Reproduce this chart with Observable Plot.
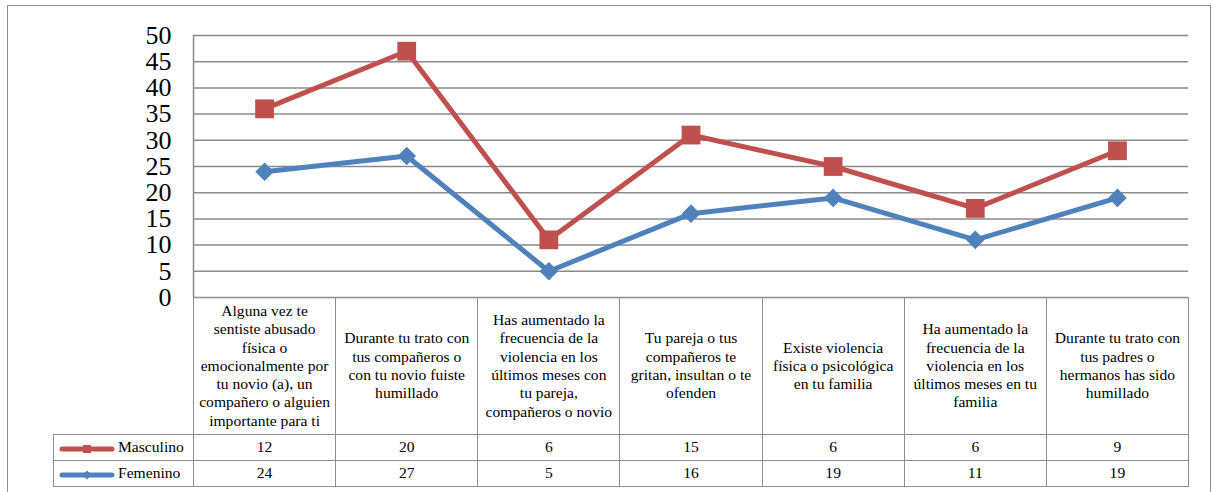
<!DOCTYPE html>
<html>
<head>
<meta charset="utf-8">
<script src="https://cdn.jsdelivr.net/npm/d3@7"></script>
<script src="https://cdn.jsdelivr.net/npm/@observablehq/plot@0.6"></script>
<style>
html,body{margin:0;padding:0;background:#fff;}
#wrap{position:relative;width:1217px;height:492px;overflow:hidden;color:#000;}
#frame{position:absolute;left:7px;top:5px;width:1204px;height:600px;border:1.5px solid #8c8c8c;box-sizing:border-box;}
#chart{position:absolute;left:0;top:0;}
#tabla{position:absolute;top:297px;border-collapse:collapse;table-layout:fixed;}
#tabla td{border:1.5px solid #8e8e8e;text-align:center;vertical-align:middle;padding:0;line-height:18.3px;white-space:pre;color:#000;}
#tabla td.vacio{border-top:none;border-left:none;}
#tabla td.leyenda{text-align:left;padding-left:5px;}
#tabla td.leyenda svg{vertical-align:middle;margin-right:3px;}
</style>
</head>
<body>
<div id="wrap" style="font-family:'Liberation Serif','Times New Roman',serif">
  <div id="frame"></div>
  <div id="chart"></div>
  <table id="tabla" style="font-family:'Liberation Serif','Times New Roman',serif;font-size:15.6px"></table>
</div>
<script>
const categorias = [
  "Alguna vez te\nsentiste abusado\nfísica o\nemocionalmente por\ntu novio (a), un\ncompañero o alguien\nimportante para ti",
  "Durante tu trato con\ntus compañeros o\ncon tu novio fuiste\nhumillado",
  "Has aumentado la\nfrecuencia de la\nviolencia en los\núltimos meses con\ntu pareja,\ncompañeros o novio",
  "Tu pareja o tus\ncompañeros te\ngritan, insultan o te\nofenden",
  "Existe violencia\nfísica o psicológica\nen tu familia",
  "Ha aumentado la\nfrecuencia de la\nviolencia en los\núltimos meses en tu\nfamilia",
  "Durante tu trato con\ntus padres o\nhermanos has sido\nhumillado"
];
const series = ["Masculino", "Femenino"];
const masculino = [12, 20, 6, 15, 6, 6, 9];
const femenino = [24, 27, 5, 16, 19, 11, 19];
const yTicks = [0, 5, 10, 15, 20, 25, 30, 35, 40, 45, 50];

const RED = "#C0504D", BLUE = "#4F81BD", GRID = "#8a8a8a";
const valores = {Masculino: masculino, Femenino: femenino};
const ordenApilado = ["Femenino", "Masculino"];

const filas = [];
categorias.forEach((c, i) => {
  for (const s of ordenApilado) filas.push({idx: i, serie: s, valor: valores[s][i]});
});

const xDomain = [-0.5, categorias.length - 0.5];
const yDomain = [yTicks[0], yTicks[yTicks.length - 1]];
const apilar = extra => Plot.stackY2({x: "idx", y: "valor", z: "serie", order: ordenApilado, ...extra});

const chart = Plot.plot({
  width: 1217, height: 300,
  marginLeft: 193, marginRight: 29, marginTop: 35, marginBottom: 3,
  style: {fontFamily: "'Liberation Serif', 'Times New Roman', serif", fontSize: "26px", color: "#000", background: "transparent", overflow: "visible"},
  x: {domain: xDomain, axis: null},
  y: {domain: yDomain, ticks: yTicks, tickSize: 0, tickPadding: 22, label: null},
  color: {domain: series, range: [RED, BLUE]},
  marks: [
    Plot.ruleY(yTicks, {stroke: GRID, strokeWidth: 1.5}),
    Plot.ruleX([xDomain[0]], {y1: yDomain[0], y2: yDomain[1], stroke: GRID, strokeWidth: 1.5}),
    Plot.lineY(filas, apilar({stroke: "serie", strokeWidth: 5, strokeLinejoin: "round"})),
    Plot.dot(filas, Plot.filter(d => d.serie === "Masculino", apilar({fill: "serie", symbol: "square", r: 10.6, stroke: null}))),
    Plot.dot(filas, Plot.filter(d => d.serie === "Femenino", apilar({fill: "serie", symbol: "diamond2", r: 8.4, stroke: null})))
  ]
});
document.getElementById("chart").appendChild(chart);

// Tabla de datos alineada con la escala x
const xs = chart.scale("x");
const bordes = d3.range(categorias.length + 1).map(i => xs.apply(i - 0.5));
const leyendaIzq = 53;
const tabla = d3.select("#tabla").style("left", leyendaIzq + "px");
const cg = tabla.append("colgroup");
cg.append("col").style("width", (bordes[0] - leyendaIzq) + "px");
for (let i = 0; i < categorias.length; i++) cg.append("col").style("width", (bordes[i + 1] - bordes[i]) + "px");
tabla.style("width", (bordes[bordes.length - 1] - leyendaIzq) + "px");

const cab = tabla.append("tr").style("height", "137px");
cab.append("td").attr("class", "vacio");
categorias.forEach(c => cab.append("td").text(c));

function muestra(td, serie) {
  const color = serie === "Masculino" ? RED : BLUE;
  const svg = td.append("svg").attr("width", 56).attr("height", 14);
  svg.append("line").attr("x1", 3).attr("x2", 53).attr("y1", 7).attr("y2", 7)
    .attr("stroke", color).attr("stroke-width", 5).attr("stroke-linecap", "round");
  if (serie === "Masculino") {
    svg.append("rect").attr("x", 24).attr("y", 3).attr("width", 8).attr("height", 8).attr("fill", color);
  } else {
    svg.append("path").attr("d", "M28,2.5L32.5,7L28,11.5L23.5,7Z").attr("fill", color);
  }
  td.append("span").text(serie);
}

for (const s of series) {
  const tr = tabla.append("tr").style("height", "26px");
  muestra(tr.append("td").attr("class", "leyenda"), s);
  valores[s].forEach(v => tr.append("td").text(v));
}
</script>
</body>
</html>
